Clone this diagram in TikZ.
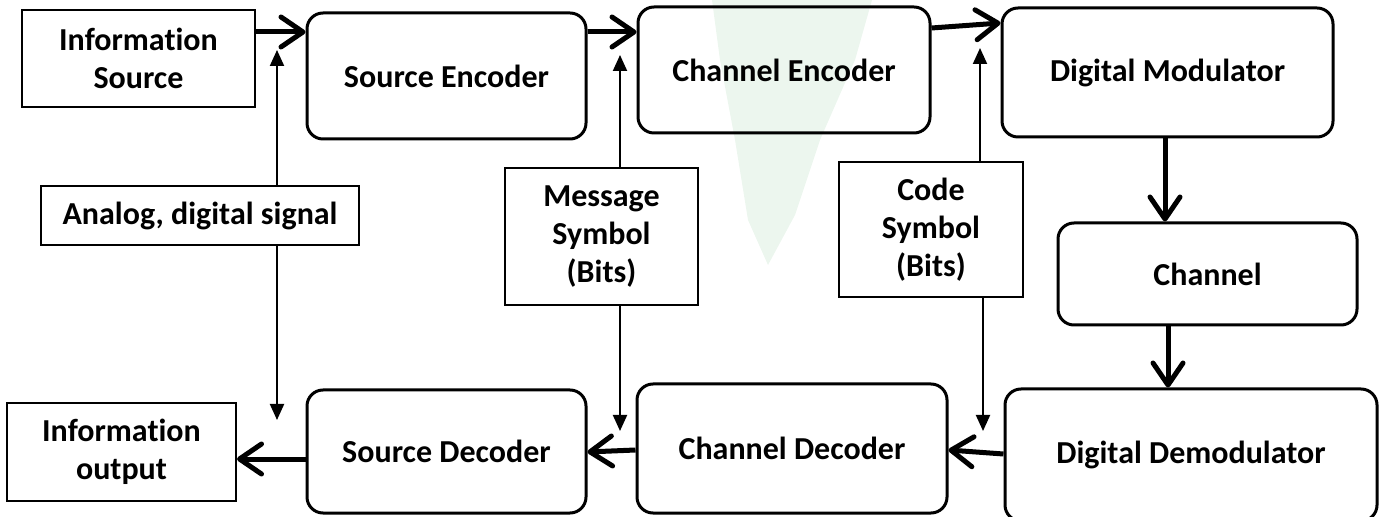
\documentclass[tikz,border=0pt]{standalone}
\usepackage{fontspec}
\setmainfont{Carlito}[Ligatures=NoCommon, Contextuals=NoAlternate]
\usetikzlibrary{arrows.meta}
\definecolor{wm}{RGB}{236,246,238}
\tikzset{
  px/.style={x=0.5pt,y=-0.5pt},
  lbl/.style={font=\bfseries\fontsize{16}{19}\selectfont, align=center, inner sep=0pt},
  plainbox/.style={lbl, draw, line width=1pt},
  roundbox/.style={lbl, draw, line width=1.5pt, rounded corners=8pt},
  bigarrow/.style={line width=2.5pt, -{Straight Barb[length=11pt,width=15pt,line width=2.5pt,round]}},
  thinarrow/.style={line width=1pt, -{Triangle[length=8pt,width=7pt]}}
}
\begin{document}
\begin{tikzpicture}[px]
\useasboundingbox (0,0) rectangle (1379,517);
\clip (0,0) rectangle (1379,517);
% faint watermark
\fill[wm] (712,0) -- (872,0) -- (855,60) -- (820,140) -- (795,215) -- (768,265) -- (748,220) -- (735,140) -- (720,60) -- cycle;

% boxes
\node[plainbox, minimum width=116.5pt, minimum height=48.5pt] (isrc) at (138.5,58.5) {Information\\Source};
\node[roundbox, minimum width=139.5pt, minimum height=63pt] (senc) at (446.5,76) {Source Encoder};
\node[roundbox, minimum width=146pt, minimum height=63pt] (cenc) at (784,70) {Channel Encoder};
\node[roundbox, minimum width=165.5pt, minimum height=64.5pt] (dmod) at (1167.5,72.5) {Digital Modulator};
\node[roundbox, minimum width=149.5pt, minimum height=51pt] (chan) at (1207.5,274) {Channel};
\node[roundbox, minimum width=186pt, minimum height=66pt] (ddem) at (1191,455) {Digital Demodulator};
\node[roundbox, minimum width=155pt, minimum height=64.5pt] (cdec) at (792,448.5) {Channel Decoder};
\node[roundbox, minimum width=139.5pt, minimum height=61.5pt] (sdec) at (446.5,451.5) {Source Decoder};
\node[plainbox, minimum width=114.5pt, minimum height=49pt] (iout) at (121.5,452) {Information\\output};
\node[plainbox, minimum width=159pt, minimum height=29.5pt] (anal) at (200,215.5) {Analog, digital signal};
\node[plainbox, minimum width=96.5pt, minimum height=68.5pt] (msg) at (601.5,236.5) {Message\\Symbol\\(Bits)};
\node[plainbox, minimum width=92pt, minimum height=67.5pt] (code) at (931,229.5) {Code\\Symbol\\(Bits)};

% free ends of thin arrows
\coordinate (a1) at (277,50);
\coordinate (a2) at (277,420);
\coordinate (m1) at (620,55);
\coordinate (m2) at (620,431);
\coordinate (c1) at (980,48);
\coordinate (c2) at (983,431);

% main chain
\draw[bigarrow] ([yshift=13.25pt]isrc.east) -- ([yshift=22pt]senc.west);
\draw[bigarrow] ([yshift=22pt]senc.east) -- ([yshift=19pt]cenc.west);
\draw[bigarrow] ([yshift=21pt]cenc.east) -- ([yshift=24.75pt]dmod.west);
\draw[bigarrow] ([xshift=-1.25pt]dmod.south) -- ([xshift=-21.25pt]chan.north);
\draw[bigarrow] ([xshift=-19.75pt]chan.south) -- ([xshift=-11.5pt]ddem.north);
\draw[bigarrow] ([yshift=0.5pt]ddem.west) -- ([yshift=-0.75pt]cdec.east);
\draw[bigarrow] ([yshift=-0.75pt]cdec.west) -- ([yshift=-0.25pt]sdec.east);
\draw[bigarrow] ([yshift=-3.75pt]sdec.west) -- ([yshift=-3.5pt]iout.east);

% thin arrows
\draw[thinarrow] ([xshift=38.5pt]anal.north) -- (a1);
\draw[thinarrow] ([xshift=38.5pt]anal.south) -- (a2);
\draw[thinarrow] ([xshift=9.25pt]msg.north) -- (m1);
\draw[thinarrow] ([xshift=9.25pt]msg.south) -- (m2);
\draw[thinarrow] ([xshift=24.5pt]code.north) -- (c1);
\draw[thinarrow] ([xshift=26pt]code.south) -- (c2);
\end{tikzpicture}
\end{document}
